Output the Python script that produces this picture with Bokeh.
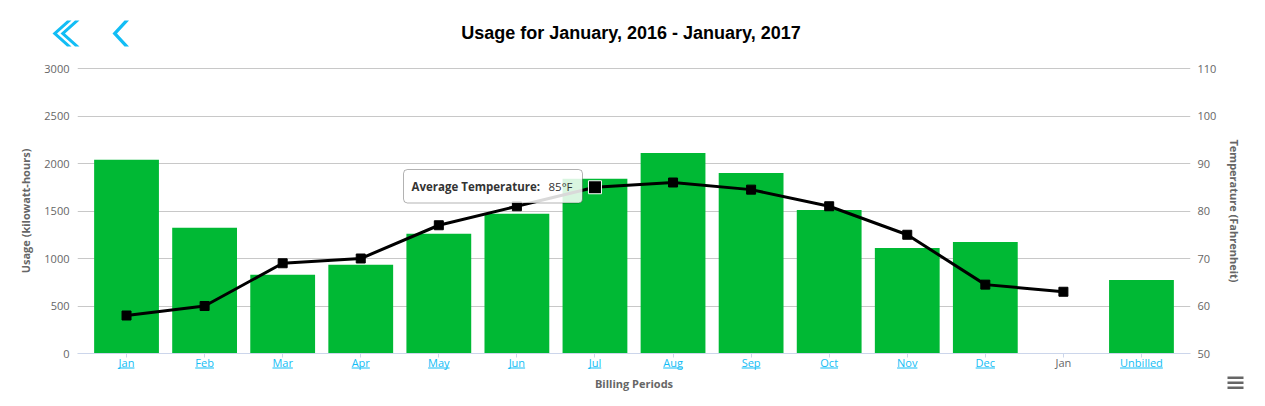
import math
from bokeh.plotting import figure
from bokeh.layouts import column
from bokeh.models import (Range1d, LinearAxis, FixedTicker, ColumnDataSource, Label, BoxAnnotation)
from bokeh.core.properties import value
from bokeh.embed import file_html
from bokeh.resources import INLINE

NAN = float("nan")

# ---------------- data ----------------
chart_title = "Usage for January, 2016 - January, 2017"
categories = ["Jan", "Feb", "Mar", "Apr", "May", "Jun", "Jul", "Aug", "Sep", "Oct",
              "Nov", "Dec", "Jan", "Unbilled"]
usage_kwh = [2040, 1325, 830, 935, 1260, 1470, 1840, 2110, 1900, 1510, 1110, 1175, NAN, 775]
avg_temp_f = [58, 60, 69, 70, 77, 81, 85, 86, 84.5, 81, 75, 64.5, 63, NAN]
usage_ticks = [0, 500, 1000, 1500, 2000, 2500, 3000]
temp_ticks = [50, 60, 70, 80, 90, 100, 110]
hover_index = 6
tooltip_name = "Average Temperature:"
tooltip_value = "85°F"
x_title = "Billing Periods"

# ---------------- style / layout ----------------
GREEN = "#00B934"
LINK = "#12BDF5"
GREY = "#666666"
GRID = "#C8C8C8"
AXIS = "#CCD6EB"
FONT = "Open Sans"

W = 1265
FR_L, FR_R = 77, 1190            # plot area, horizontal (page px)
VAL_T, VAL_B = 68, 353           # top / bottom of the value scales (page px)
EXT = 19                         # frame extends this far above/below (room for category labels)
HEAD_H = VAL_T - EXT
MAIN_H = (VAL_B + EXT) - HEAD_H
FOOT_TOP = HEAD_H + MAIN_H
FOOT_H = 400 - FOOT_TOP

x_start, x_end = -0.628, 13.628
ppx = (FR_R - FR_L) / (x_end - x_start)
u_lo, u_hi = usage_ticks[0], usage_ticks[-1]
t_lo, t_hi = temp_ticks[0], temp_ticks[-1]
upp = (u_hi - u_lo) / (VAL_B - VAL_T)     # usage units per px
tpp = (t_hi - t_lo) / (VAL_B - VAL_T)     # temperature units per px

xs = list(range(len(categories)))
label_colors = [GREY if math.isnan(u) else LINK for u in usage_kwh]
src = ColumnDataSource(dict(x=xs, usage=usage_kwh, temp=avg_temp_f,
                            label=categories, color=label_colors))

# ================= header: navigation + title =================
hd = figure(width=W, height=HEAD_H, output_backend="svg", toolbar_location=None,
            x_range=Range1d(0, W), y_range=Range1d(HEAD_H, 0), min_border=0,
            x_axis_location=None, y_axis_location=None, frame_align=False)
hd.grid.visible = False
hd.outline_line_color = None


def chevron(ax, ay, span=14.5, h=13, d=4.5):
    return ([ax + span, ax, ax + span, ax + span + d, ax + d, ax + span + d],
            [ay - h, ay, ay + h, ay + h, ay, ay - h])


chev = [chevron(52, 33), chevron(60, 33), chevron(112, 33, span=12)]
hd.patches(xs=[c[0] for c in chev], ys=[c[1] for c in chev], fill_color=LINK, line_color=None)
hd.text(x=[630.5], y=[32], text=[chart_title], text_align="center", text_baseline="middle",
        text_font=value("Liberation Sans"), text_font_size="18px", text_font_style="bold",
        text_color="#000000")

# ================= main plot =================
p = figure(width=W, height=MAIN_H, output_backend="svg", toolbar_location=None,
           x_range=Range1d(x_start, x_end),
           y_range=Range1d(u_lo - EXT * upp, u_hi + EXT * upp),
           min_border_left=FR_L, min_border_right=W - FR_R,
           min_border_top=0, min_border_bottom=0, title=None, frame_align=False)
p.outline_line_color = None
p.extra_y_ranges = {"temp": Range1d(t_lo - EXT * tpp, t_hi + EXT * tpp)}

p.xgrid.visible = False
p.ygrid.grid_line_color = GRID
p.ygrid.grid_line_width = 1
p.ygrid.ticker = FixedTicker(ticks=usage_ticks)

ya = p.yaxis[0]
ya.ticker = FixedTicker(ticks=usage_ticks)
ya.axis_line_color = None
ya.major_tick_line_color = None
ya.minor_tick_line_color = None
ya.major_tick_out = 0
ya.major_tick_in = 0
ya.major_label_standoff = 8
ya.major_label_text_font = FONT
ya.major_label_text_font_size = "11px"
ya.major_label_text_color = GREY
ya.axis_label = "Usage (kilowatt-hours)"
ya.axis_label_text_font = FONT
ya.axis_label_text_font_size = "11px"
ya.axis_label_text_font_style = "bold"
ya.axis_label_text_color = GREY
ya.axis_label_standoff = 8

ra = LinearAxis(y_range_name="temp", ticker=FixedTicker(ticks=temp_ticks))
ra.axis_line_color = None
ra.major_tick_line_color = None
ra.minor_tick_line_color = None
ra.major_tick_out = 0
ra.major_tick_in = 0
ra.major_label_standoff = 7
ra.major_label_text_font = FONT
ra.major_label_text_font_size = "11px"
ra.major_label_text_color = GREY
ra.axis_label = "Temperature (Fahrenheit)"
ra.axis_label_text_font = FONT
ra.axis_label_text_font_size = "11px"
ra.axis_label_text_font_style = "bold"
ra.axis_label_text_color = GREY
ra.axis_label_standoff = 8
p.add_layout(ra, "right")

# category axis: drawn at usage 0, tick marks at each period
xa = p.xaxis[0]
xa.fixed_location = u_lo
xa.ticker = FixedTicker(ticks=[], minor_ticks=xs)
xa.axis_line_color = AXIS
xa.axis_line_width = 1
xa.major_tick_line_color = None
xa.major_tick_out = 0
xa.major_tick_in = 0
xa.minor_tick_line_color = AXIS
xa.minor_tick_out = 4
xa.minor_tick_in = 0
xa.major_label_standoff = 0

p.vbar(x="x", top="usage", width=0.83, source=src, fill_color=GREEN, line_color=None)
p.line(x="x", y="temp", source=src, y_range_name="temp", line_width=3, line_color="black")
p.scatter(x="x", y="temp", source=src, y_range_name="temp", marker="square", size=9,
          fill_color="black", line_color="black")

# category labels, coloured per billing state, linked ones underlined
p.text(x="x", y=u_lo - 9 * upp, text="label", source=src, text_color="color",
       text_align="center", text_baseline="middle",
       text_font=value(FONT), text_font_size="11px")
EM = {"J": .27, "a": .556, "n": .613, "F": .53, "e": .561, "b": .613, "M": .89, "r": .408,
      "A": .633, "p": .613, "y": .5, "u": .613, "l": .258, "g": .55, "S": .54, "O": .78,
      "c": .476, "t": .35, "N": .74, "o": .604, "v": .5, "D": .72, "U": .715, "i": .258, "d": .613}
lo, hi = [], []
for i, (lab, col) in enumerate(zip(categories, label_colors)):
    if col == LINK:
        wpx = sum(EM.get(ch, .56) for ch in lab) * 11
        lo.append(i - wpx / 2 / ppx)
        hi.append(i + wpx / 2 / ppx)
usrc = ColumnDataSource(dict(lo=lo, hi=hi))
p.segment(x0="lo", x1="hi", y0=u_lo - 14.5 * upp, y1=u_lo - 14.5 * upp, source=usrc,
          line_color=LINK, line_width=1)

# hovered point + tooltip
p.scatter(x=[xs[hover_index]], y=[avg_temp_f[hover_index]], y_range_name="temp",
          marker="square", size=13, fill_color="black", line_color="white", line_width=1)
p.add_layout(BoxAnnotation(left=403, right=582, top=169 - HEAD_H, bottom=202.5 - HEAD_H,
                           left_units="canvas", right_units="canvas",
                           top_units="canvas", bottom_units="canvas",
                           fill_color="white", fill_alpha=0.85,
                           line_color="black", line_width=1, border_radius=4))
p.add_layout(Label(x=411, y=186 - HEAD_H, x_units="canvas", y_units="canvas", text=tooltip_name,
                   text_font=FONT, text_font_size="11.5px", text_font_style="bold",
                   text_color="#333333", text_baseline="middle"))
p.add_layout(Label(x=548, y=186 - HEAD_H, x_units="canvas", y_units="canvas", text=tooltip_value,
                   text_font=FONT, text_font_size="11.5px",
                   text_color="#333333", text_baseline="middle"))

# ================= footer: axis title + menu =================
ft = figure(width=W, height=FOOT_H, output_backend="svg", toolbar_location=None,
            x_range=Range1d(0, W), y_range=Range1d(FOOT_H, 0), min_border=0,
            x_axis_location=None, y_axis_location=None, frame_align=False)
ft.grid.visible = False
ft.outline_line_color = None
ft.text(x=[(FR_L + FR_R) / 2], y=[382.5 - FOOT_TOP], text=[x_title], text_align="center",
        text_baseline="middle", text_font=value(FONT), text_font_size="11px",
        text_font_style="bold", text_color=GREY)
menu_y = [376, 381, 386]
ft.quad(left=1227, right=1243, top=[y - FOOT_TOP for y in menu_y],
        bottom=[y + 2.5 - FOOT_TOP for y in menu_y], fill_color=GREY, line_color=None)

layout = column(hd, p, ft, spacing=0)
open("out.html", "w").write(file_html(layout, INLINE))
